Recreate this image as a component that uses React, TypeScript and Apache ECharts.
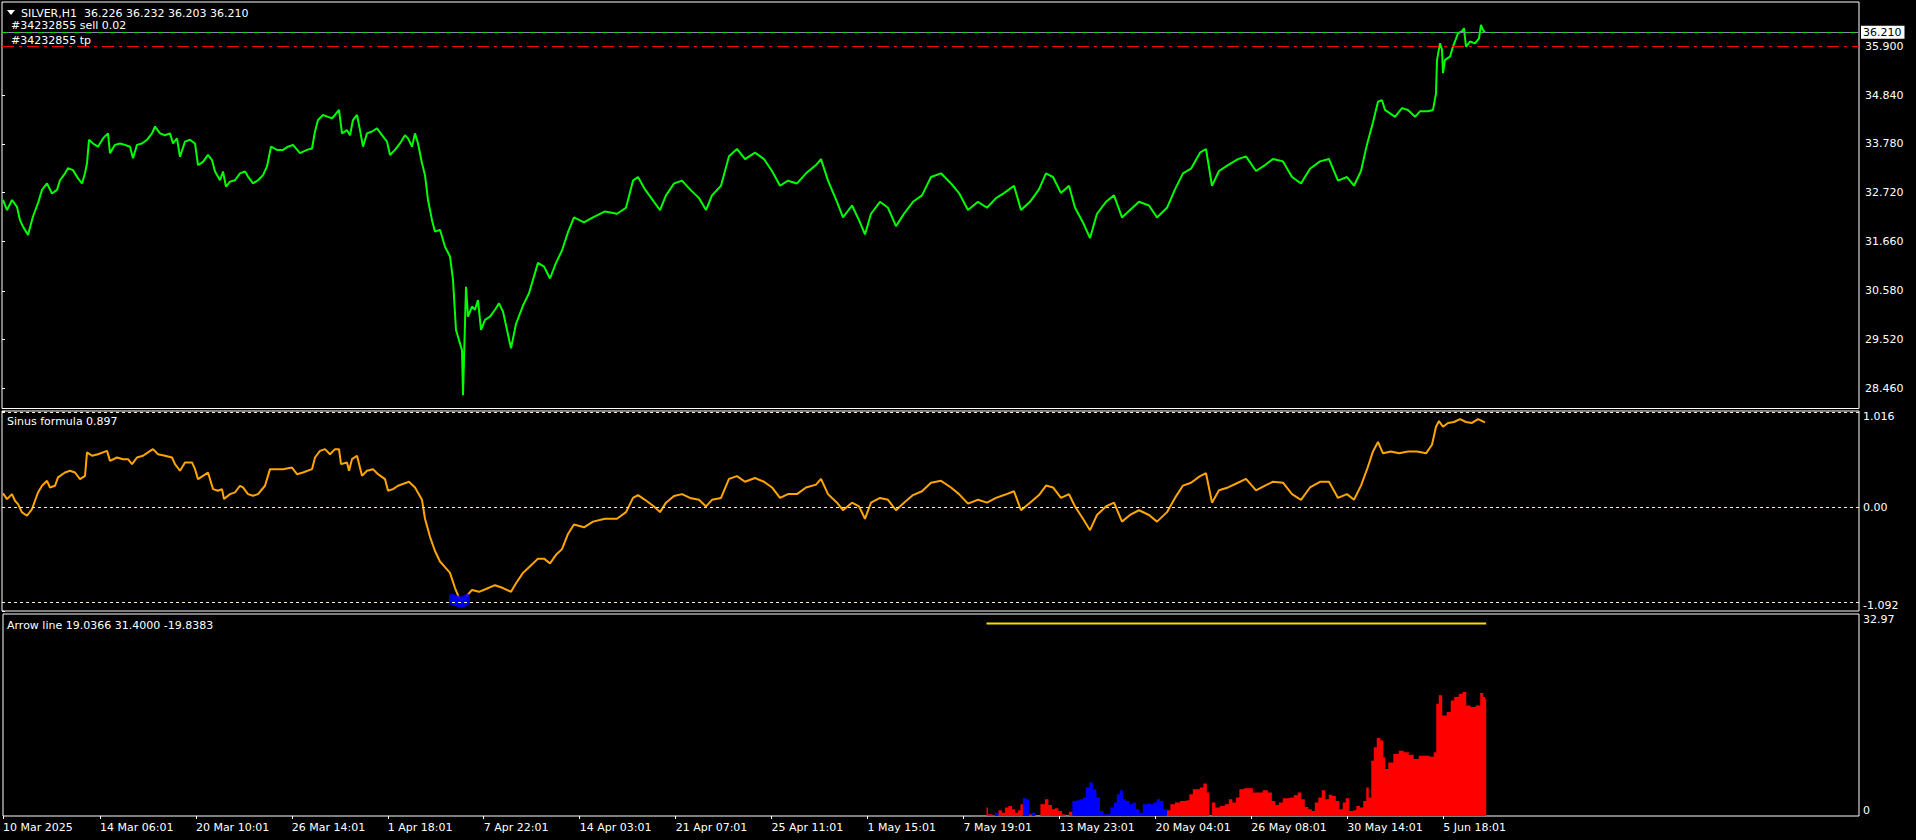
import React, { useEffect, useRef } from 'react';
import * as echarts from 'echarts';

const FONT = '"DejaVu Sans", Verdana, sans-serif';

// ---- x axis (bar index, H1 bars) ----
const barMax = 1857;
const dateTickBars = [0, 97, 193, 289, 385, 481, 577, 673, 769, 865, 961, 1057, 1153, 1249, 1345, 1441];
const dateTickLabels = ['10 Mar 2025', '14 Mar 06:01', '20 Mar 10:01', '26 Mar 14:01', '1 Apr 18:01', '7 Apr 22:01', '14 Apr 03:01', '21 Apr 07:01', '25 Apr 11:01', '1 May 15:01', '7 May 19:01', '13 May 23:01', '20 May 04:01', '26 May 08:01', '30 May 14:01', '5 Jun 18:01'];

// ---- main pane: SILVER H1 close ----
const priceMin = 28.02;
const priceMax = 36.87;
const priceTicks = [28.46, 29.52, 30.58, 31.66, 32.72, 33.78, 34.84, 35.9];
const lastPrice = 36.21;
const tpPrice = 35.9;
const priceClose: [number, number][] = [
  [1,32.56],[5,32.34],[10,32.56],[15,32.41],[18,32.12],[21,31.98],[26,31.80],[31,32.20],[36,32.49],[40,32.78],[45,32.92],[50,32.70],[55,32.78],[58,32.99],[63,33.14],[66,33.25],[71,33.21],[76,33.03],[80,32.92],[83,33.14],[85,33.36],[87,33.87],[91,33.79],[96,33.72],[101,33.90],[106,34.01],[108,33.58],[113,33.76],[118,33.79],[123,33.76],[128,33.72],[131,33.47],[135,33.76],[140,33.79],[145,33.87],[150,34.01],[153,34.16],[158,34.01],[163,33.97],[168,34.01],[171,33.79],[175,33.90],[178,33.50],[183,33.83],[188,33.87],[193,33.79],[196,33.32],[201,33.39],[206,33.54],[210,33.43],[213,33.18],[218,32.99],[221,33.18],[224,32.85],[228,32.96],[233,32.99],[238,33.14],[243,33.18],[246,33.07],[251,32.92],[256,32.99],[261,33.10],[265,33.29],[269,33.72],[275,33.65],[281,33.65],[286,33.72],[291,33.76],[298,33.58],[305,33.65],[310,33.68],[313,34.05],[316,34.30],[321,34.41],[326,34.37],[330,34.34],[333,34.41],[337,34.52],[340,34.01],[345,34.08],[348,33.97],[351,34.30],[355,34.41],[358,34.08],[361,33.72],[365,34.01],[370,34.05],[375,34.12],[380,33.97],[385,33.83],[388,33.54],[393,33.65],[398,33.79],[403,33.97],[406,33.90],[410,33.72],[413,34.01],[416,33.79],[420,33.36],[423,33.10],[426,32.56],[430,32.12],[433,31.87],[438,31.91],[443,31.54],[448,31.33],[451,30.82],[454,29.73],[456,29.58],[460,29.29],[461,28.31],[464,30.67],[466,30.02],[470,30.24],[473,30.17],[476,30.38],[479,29.73],[483,29.95],[488,30.02],[493,30.17],[497,30.31],
  [501,30.13],[509,29.33],[514,29.86],[521,30.26],[527,30.53],[536,31.19],[542,31.11],[548,30.85],[554,31.19],[560,31.46],[566,31.86],[572,32.18],[582,32.07],[591,32.18],[603,32.31],[615,32.26],[624,32.39],[631,32.98],[636,33.06],[643,32.79],[652,32.52],[658,32.34],[664,32.66],[672,32.92],[680,32.98],[688,32.79],[697,32.60],[704,32.34],[710,32.66],[719,32.87],[727,33.51],[735,33.67],[743,33.45],[753,33.59],[762,33.45],[770,33.19],[778,32.87],[786,32.98],[795,32.92],[804,33.14],[814,33.32],[819,33.45],[826,32.98],[835,32.52],[841,32.18],[850,32.44],[857,32.12],[863,31.81],[869,32.26],[878,32.52],[886,32.39],[894,31.99],[902,32.26],[911,32.52],[920,32.66],[929,33.06],[939,33.14],[949,32.92],[957,32.71],[966,32.34],[976,32.52],[985,32.39],[994,32.60],[1002,32.71],[1012,32.87],[1019,32.34],[1028,32.52],[1037,32.79],[1044,33.14],[1051,33.06],[1059,32.71],[1067,32.87],[1073,32.39],[1081,32.07],[1088,31.73],[1095,32.26],[1104,32.52],[1112,32.66],[1120,32.18],[1128,32.34],[1137,32.52],[1147,32.44],[1155,32.18],[1165,32.39],[1173,32.79],[1181,33.14],[1189,33.24],[1198,33.59],[1204,33.67],[1210,32.87],[1217,33.19],[1226,33.32],[1236,33.45],[1244,33.51],[1254,33.19],[1263,33.32],[1271,33.45],[1281,33.40],[1290,33.06],[1299,32.92],[1308,33.24],[1318,33.40],[1327,33.45],[1336,32.98],[1345,33.06],[1352,32.87],[1359,33.19],[1365,33.77],[1371,34.25],[1376,34.70],
  [1380,34.73],[1383,34.52],[1393,34.37],[1400,34.56],[1406,34.52],[1413,34.37],[1418,34.49],[1426,34.49],[1431,34.52],[1434,34.88],[1435,35.61],[1438,35.97],[1440,35.83],[1441,35.32],[1443,35.61],[1448,35.68],[1451,35.90],[1456,36.19],[1460,36.23],[1462,36.30],[1464,35.90],[1468,36.01],[1473,35.97],[1477,36.08],[1479,36.37],[1481,36.26],[1483,36.21]
];

// ---- pane 2: Sinus formula ----
const sinusMin = -1.092;
const sinusMax = 1.016;
const sinusTicks = [-1.092, 0, 1.016];
const sinusLevels = [1, 0, -1];
const sinusLine: [number, number][] = [
  [1,0.147],[5,0.087],[10,0.14],[13,0.07],[16,0.035],[20,-0.053],[25,-0.088],[30,-0.018],[33,0.07],[36,0.157],[40,0.228],[45,0.28],[48,0.21],[53,0.228],[56,0.316],[63,0.368],[68,0.386],[73,0.368],[78,0.298],[83,0.333],[85,0.58],[90,0.544],[96,0.56],[105,0.596],[108,0.49],[115,0.526],[121,0.508],[126,0.508],[130,0.456],[135,0.526],[141,0.544],[146,0.58],[151,0.614],[156,0.56],[163,0.544],[170,0.526],[173,0.456],[178,0.386],[183,0.474],[190,0.474],[193,0.403],[196,0.298],[201,0.333],[206,0.368],[211,0.193],[216,0.175],[220,0.193],[222,0.088],[228,0.14],[233,0.158],[238,0.228],[241,0.21],[246,0.14],[251,0.122],[256,0.14],[263,0.228],[268,0.403],[275,0.403],[281,0.403],[290,0.42],[295,0.35],[301,0.368],[310,0.403],[313,0.526],[318,0.596],[323,0.614],[328,0.56],[333,0.614],[337,0.614],[339,0.456],[345,0.474],[347,0.386],[350,0.508],[355,0.544],[360,0.333],[365,0.386],[371,0.403],[376,0.35],[383,0.298],[386,0.175],[391,0.193],[396,0.228],
  [407,0.27],[413,0.21],[420,0.08],[423,-0.12],[428,-0.31],[433,-0.46],[438,-0.57],[443,-0.63],[448,-0.69],[453,-0.85],[457,-0.95],[460,-0.98],[465,-0.93],[470,-0.87],[477,-0.89],[484,-0.86],[493,-0.82],[501,-0.85],[509,-0.89],[514,-0.80],[521,-0.69],[527,-0.63],[536,-0.54],[542,-0.54],[548,-0.59],[554,-0.50],[560,-0.44],[566,-0.28],[572,-0.18],[582,-0.21],[591,-0.15],[603,-0.12],[615,-0.12],[624,-0.05],[631,0.10],[636,0.13],[643,0.08],[652,0.01],[658,-0.05],[664,0.05],[672,0.12],[680,0.14],[688,0.10],[697,0.08],[704,0.01],[710,0.08],[719,0.10],[727,0.30],[735,0.33],[743,0.27],[753,0.31],[762,0.27],[770,0.21],[778,0.10],[786,0.14],[795,0.14],[804,0.21],[814,0.24],[819,0.30],[826,0.14],[835,0.05],[841,-0.03],[850,0.05],[857,0.01],[863,-0.12],[869,0.05],[878,0.10],[886,0.08],[894,-0.03],[902,0.05],[911,0.13],[920,0.17],[929,0.26],[939,0.28],[949,0.21],[957,0.14],[966,0.04],[976,0.08],[985,0.05],[994,0.10],[1002,0.13],[1012,0.17],[1019,-0.03],[1028,0.05],[1037,0.13],[1044,0.23],[1051,0.21],[1059,0.10],[1067,0.14],[1073,0.01],[1081,-0.12],[1088,-0.24],[1095,-0.08],[1104,0.01],[1112,0.05],[1120,-0.15],[1128,-0.08],[1137,-0.03],[1147,-0.08],[1155,-0.15],[1165,-0.05],[1173,0.10],[1181,0.23],[1189,0.26],[1198,0.33],[1204,0.36],[1210,0.05],[1217,0.18],[1226,0.21],[1236,0.26],[1244,0.30],[1254,0.18],[1263,0.23],[1271,0.27],[1281,0.26],[1290,0.14],[1299,0.08],[1308,0.21],[1318,0.27],[1327,0.27],[1336,0.10],[1345,0.14],[1352,0.08],[1359,0.23],[1365,0.40],[1371,0.59],[1376,0.69],[1381,0.57],[1389,0.59],[1397,0.57],[1406,0.59],[1415,0.59],[1424,0.57],[1430,0.66],[1434,0.85],[1437,0.91],[1441,0.85],[1446,0.89],[1452,0.90],[1458,0.93],[1464,0.90],[1470,0.89],[1476,0.93],[1483,0.897]
];
const sinusSignal: [number, number][] = [[450,-0.97],[453,-0.98],[456,-0.99],[459,-1.0],[462,-0.99],[465,-0.97]];

// ---- pane 3: Arrow line ----
const arrowMin = 0;
const arrowMax = 32.97;
const arrowTicks = [0, 32.97];
const arrowLevel = 31.4;
const arrowLevelBars = [984, 1484];
const arrowHist: [number, number, string][] = [
  [984,1.37,'r'],[987,0.27,'r'],[991,0.16,'r'],[994,0.55,'b'],[998,0.93,'r'],[1001,0.55,'r'],[1004,1.37,'r'],[1008,1.64,'r'],[1011,1.09,'r'],[1014,0.55,'r'],[1017,0.93,'r'],[1019,1.91,'r'],[1022,2.90,'b'],[1025,2.74,'b'],[1028,0.27,'r'],[1031,0.55,'b'],[1035,0,'r'],[1041,1.91,'r'],[1044,2.74,'r'],[1048,1.81,'r'],[1051,1.09,'r'],[1054,1.26,'r'],[1058,0.82,'r'],[1061,0.27,'r'],[1065,0,'r'],[1068,0.71,'r'],[1072,2.46,'b'],[1075,2.57,'b'],[1079,2.74,'b'],[1082,3.01,'b'],[1085,4.65,'b'],[1089,5.47,'b'],[1092,4.38,'b'],[1096,3.01,'b'],[1099,0.82,'b'],[1103,0.27,'b'],[1106,0.27,'b'],[1110,1.37,'b'],[1113,2.19,'b'],[1116,3.56,'b'],[1119,4.21,'b'],[1122,2.74,'b'],[1125,2.46,'b'],[1129,1.91,'b'],[1132,2.19,'b'],[1135,1.09,'b'],[1139,0.55,'b'],[1142,1.91,'b'],[1146,2.02,'b'],[1149,1.91,'b'],[1153,2.19,'b'],[1156,2.74,'b'],[1159,2.46,'b'],[1163,1.09,'b'],[1166,0.93,'r'],[1170,1.91,'r'],[1175,2.19,'r'],[1180,2.46,'r'],[1185,2.57,'r'],[1189,3.56,'r'],[1192,4.38,'r'],[1196,4.38,'r'],[1199,4.65,'r'],[1203,5.31,'r'],[1206,3.83,'r'],[1208,0,'r'],[1211,2.19,'r'],[1215,1.37,'r'],[1220,1.64,'r'],[1225,1.91,'r'],[1228,2.74,'r'],[1232,2.19,'r'],[1235,3.01,'r'],[1239,4.38,'r'],[1244,4.54,'r'],[1249,4.54,'r'],[1252,3.83,'r'],[1258,3.83,'r'],[1263,4.21,'r'],[1268,3.83,'r'],[1271,2.46,'r'],[1275,1.81,'r'],[1278,2.19,'r'],[1283,2.90,'r'],[1289,3.01,'r'],[1294,3.39,'r'],[1297,3.83,'r'],[1301,2.74,'r'],[1304,1.48,'r'],[1308,1.09,'r'],[1311,0.82,'r'],[1314,2.19,'r'],[1318,3.01,'r'],[1321,4.21,'r'],[1325,2.74,'r'],[1328,3.45,'r'],[1332,3.28,'r'],[1335,2.46,'r'],[1339,1.09,'r'],[1342,2.19,'r'],[1345,2.90,'r'],[1349,0.82,'r'],[1352,0.93,'r'],[1356,1.64,'r'],[1359,1.37,'r'],[1363,2.46,'r'],[1365,4.65,'r'],[1368,3.01,'r'],[1370,9.03,'r'],[1373,11.21,'r'],[1376,12.75,'r'],[1380,12.31,'r'],[1382,9.57,'r'],[1384,7.66,'r'],[1388,8.75,'r'],[1394,10.12,'r'],[1399,10.67,'r'],[1404,10.39,'r'],[1409,10.01,'r'],[1414,9.30,'r'],[1419,9.85,'r'],[1425,9.85,'r'],[1430,9.68,'r'],[1433,10.39,'r'],[1435,18.32,'r'],[1438,19.69,'r'],[1442,16.41,'r'],[1447,16.96,'r'],[1450,18.87,'r'],[1454,19.42,'r'],[1459,19.97,'r'],[1462,20.24,'r'],[1466,18.05,'r'],[1471,17.78,'r'],[1476,18.05,'r'],[1480,20.07,'r'],[1482,19.42,'r'],[1484,19.04,'r']
];

// ---- header texts ----
const headerMain = 'SILVER,H1  36.226 36.232 36.203 36.210';
const orderLabel = '#34232855 sell 0.02';
const tpLabel = '#34232855 tp';
const sinusTitle = 'Sinus formula 0.897';
const arrowTitle = 'Arrow line 19.0366 31.4000 -19.8383';

function buildOption(): any {
  const labelFont = { fontFamily: FONT, fontSize: 11, color: '#ffffff' };
  const hiddenX = (gi: number) => ({
    type: 'value', gridIndex: gi, min: 0, max: barMax, show: false,
  });
  const dateMap = new Map<number, string>();
  dateTickBars.forEach((b, i) => dateMap.set(b, dateTickLabels[i]));

  const grids = [
    { left: 2, top: 2, width: 1857, height: 406.5 },
    { left: 2, top: 411, width: 1857, height: 200 },
    { left: 2, top: 614, width: 1857, height: 202 },
  ].map((g) => ({ ...g, show: true, borderColor: '#ffffff', borderWidth: 1, backgroundColor: '#000000', containLabel: false }));

  const textEl = (x: number, y: number, text: string) => ({
    type: 'text', x, y, silent: true,
    style: { text, fill: '#ffffff', font: `11px ${FONT}`, textVerticalAlign: 'middle', verticalAlign: 'middle' },
  });

  return {
    animation: false,
    backgroundColor: '#000000',
    grid: grids,
    xAxis: [
      hiddenX(0),
      hiddenX(1),
      {
        type: 'value', gridIndex: 2, min: 0, max: barMax,
        axisLine: { show: false },
        splitLine: { show: false },
        axisTick: { show: true, length: 3, lineStyle: { color: '#ffffff' }, customValues: dateTickBars },
        axisLabel: {
          ...labelFont, margin: 6, align: 'left',
          customValues: dateTickBars,
          formatter: (v: number) => dateMap.get(v) ?? '',
        },
      },
    ],
    yAxis: [
      {
        type: 'value', gridIndex: 0, position: 'right', min: priceMin, max: priceMax,
        axisLine: { show: false }, splitLine: { show: false },
        axisTick: { show: true, length: 3, lineStyle: { color: '#ffffff' }, customValues: priceTicks },
        axisLabel: { ...labelFont, margin: 6, customValues: priceTicks, formatter: (v: number) => v.toFixed(3) },
      },
      {
        type: 'value', gridIndex: 1, position: 'right', min: sinusMin, max: sinusMax,
        axisLine: { show: false }, splitLine: { show: false },
        axisTick: { show: true, length: 3, lineStyle: { color: '#ffffff' }, customValues: sinusTicks },
        axisLabel: {
          ...labelFont, margin: 4, customValues: sinusTicks,
          verticalAlignMinLabel: 'bottom', verticalAlignMaxLabel: 'top',
          formatter: (v: number) => (v === 0 ? '0.00' : v.toFixed(3)),
        },
      },
      {
        type: 'value', gridIndex: 2, position: 'right', min: arrowMin, max: arrowMax,
        axisLine: { show: false }, splitLine: { show: false },
        axisTick: { show: false },
        axisLabel: {
          ...labelFont, margin: 4, customValues: arrowTicks,
          verticalAlignMinLabel: 'bottom', verticalAlignMaxLabel: 'top',
          formatter: (v: number) => (v === 0 ? '0' : v.toFixed(2)),
        },
      },
    ],
    series: [
      {
        name: 'price', type: 'line', xAxisIndex: 0, yAxisIndex: 0,
        data: priceClose, showSymbol: false, symbol: 'none',
        lineStyle: { color: '#00ff00', width: 2 },
        markLine: {
          silent: true, symbol: ['none', 'none'], animation: false,
          data: [
            { yAxis: tpPrice, lineStyle: { color: '#ff0000', width: 1, type: [12, 5, 3, 5] }, label: { show: false } },
            {
              yAxis: lastPrice, lineStyle: { color: '#8888a8', width: 1, type: 'solid' },
              label: {
                show: true, position: 'end', distance: 2, formatter: lastPrice.toFixed(3),
                fontFamily: FONT, fontSize: 11, color: '#000000', backgroundColor: '#ffffff',
                padding: [1, 3, 0, 2], lineHeight: 12,
              },
            },
            { yAxis: lastPrice, lineStyle: { color: '#00dd00', width: 1, type: [5, 7] }, label: { show: false } },
          ],
        },
        z: 3,
      },
      {
        name: 'sinus', type: 'line', xAxisIndex: 1, yAxisIndex: 1,
        data: sinusLine, showSymbol: false, symbol: 'none',
        lineStyle: { color: '#ffa500', width: 2 },
        markLine: {
          silent: true, symbol: ['none', 'none'], animation: false,
          label: { show: false },
          lineStyle: { color: '#ffefc8', width: 1, type: [3, 3] },
          data: sinusLevels.map((v) => ({ yAxis: v })),
        },
        z: 3,
      },
      {
        name: 'signal', type: 'scatter', xAxisIndex: 1, yAxisIndex: 1,
        data: sinusSignal, symbol: 'roundRect', symbolSize: [6, 11],
        itemStyle: { color: '#0000ff' }, z: 4,
      },
      {
        name: 'arrowRed', type: 'line', xAxisIndex: 2, yAxisIndex: 2, step: 'middle',
        data: arrowHist.map(([b, v, c]) => [b, c === 'r' ? v : 0]),
        showSymbol: false, symbol: 'none',
        lineStyle: { width: 0, opacity: 0 },
        areaStyle: { color: '#ff0000', opacity: 1 },
      },
      {
        name: 'arrowBlue', type: 'line', xAxisIndex: 2, yAxisIndex: 2, step: 'middle',
        data: arrowHist.map(([b, v, c]) => [b, c === 'b' ? v : 0]),
        showSymbol: false, symbol: 'none',
        lineStyle: { width: 0, opacity: 0 },
        areaStyle: { color: '#0000ff', opacity: 1 },
      },
      {
        name: 'arrowLevel', type: 'line', xAxisIndex: 2, yAxisIndex: 2,
        data: arrowLevelBars.map((b) => [b, arrowLevel]),
        showSymbol: false, symbol: 'none',
        lineStyle: { color: '#ffd700', width: 2 },
      },
    ],
    graphic: [
      { type: 'polygon', silent: true, shape: { points: [[7, 10], [15, 10], [11, 15]] }, style: { fill: '#ffffff' } },
      textEl(21, 13, headerMain),
      textEl(11, 25, orderLabel),
      textEl(11, 40, tpLabel),
      textEl(7, 421, sinusTitle),
      textEl(7, 625, arrowTitle),
    ],
  };
}

export default function App() {
  const ref = useRef<HTMLDivElement>(null);
  useEffect(() => {
    if (!ref.current) return;
    const chart = echarts.init(ref.current, null, { renderer: 'svg' });
    chart.setOption(buildOption());
    return () => chart.dispose();
  }, []);
  return (
    <div
      ref={ref}
      style={{ position: 'fixed', left: 0, top: 0, width: 1916, height: 840, background: '#000000' }}
    />
  );
}
